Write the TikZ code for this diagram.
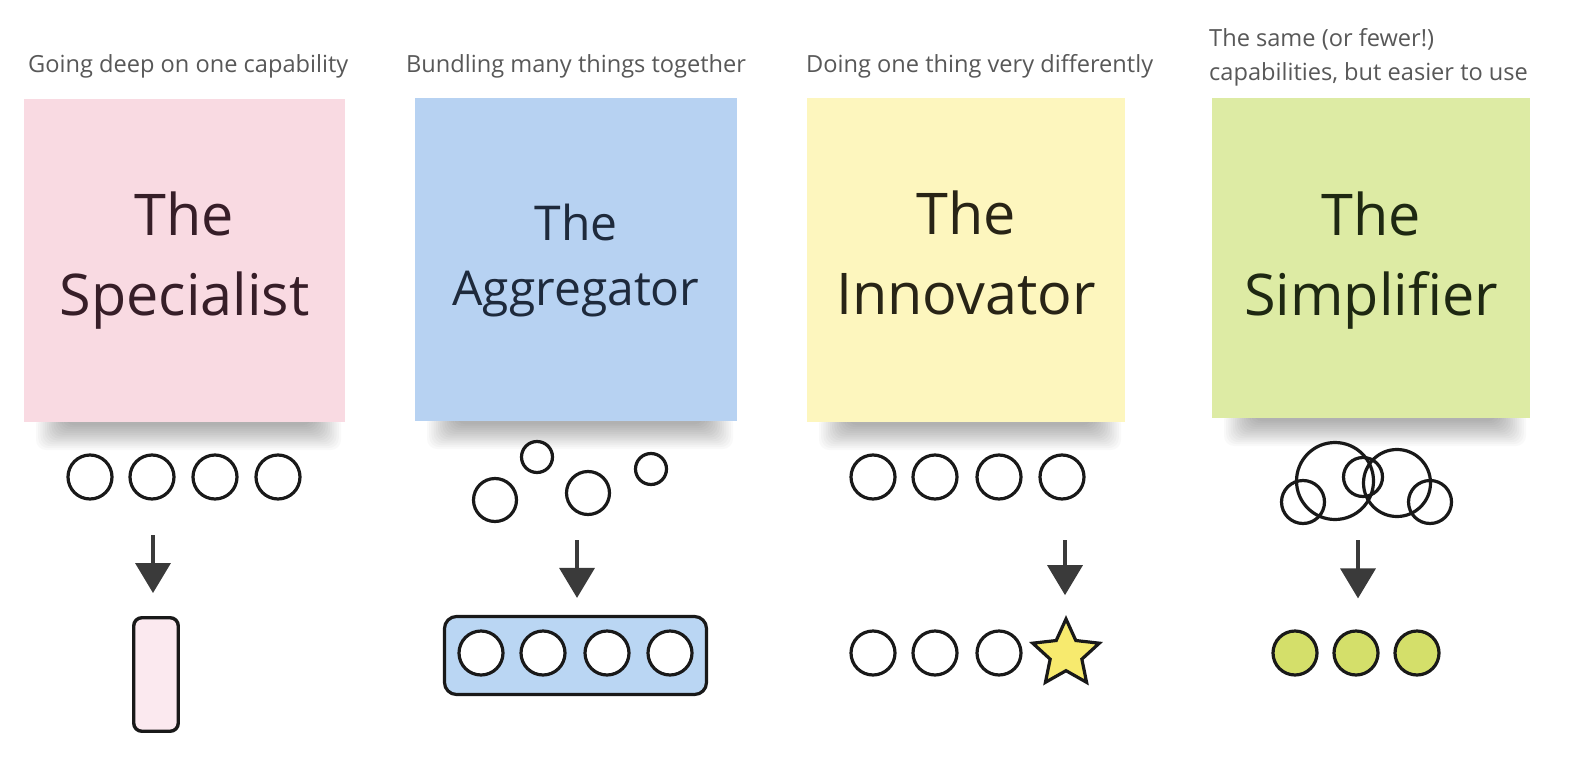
\documentclass[tikz,border=0pt]{standalone}
\usepackage{fontspec}
\setmainfont{Open Sans}
\usetikzlibrary{arrows.meta,shapes.geometric}
\definecolor{pinknote}{RGB}{249,218,226}
\definecolor{bluenote}{RGB}{183,210,242}
\definecolor{yellownote}{RGB}{253,246,190}
\definecolor{greennote}{RGB}{221,235,164}
\definecolor{pinkbox}{RGB}{251,233,239}
\definecolor{bluebox}{RGB}{186,214,243}
\definecolor{starfill}{RGB}{247,234,110}
\definecolor{greendot}{RGB}{212,223,106}
\definecolor{ink}{RGB}{25,25,25}
\definecolor{arrowink}{RGB}{58,58,58}
\definecolor{captionink}{RGB}{88,88,88}
\definecolor{tpink}{RGB}{55,30,40}
\definecolor{tblue}{RGB}{30,42,60}
\definecolor{tyellow}{RGB}{40,36,22}
\definecolor{tgreen}{RGB}{30,40,18}
\tikzset{
  note/.style={rectangle, inner sep=0pt, align=center},
  bigtitle/.style={font=\fontsize{57.5}{80}\selectfont, text height=122pt, text depth=13pt},
  smalltitle/.style={font=\fontsize{48}{65}\selectfont, text height=101pt, text depth=10pt},
  caption/.style={anchor=base west, inner sep=0pt, text=captionink, font=\fontsize{23.6}{34}\selectfont, align=left},
  ring/.style={circle, draw=ink, line width=3.2pt, fill=white, inner sep=0pt, minimum size=#1},
  ring/.default=44pt,
  arr/.style={draw=arrowink, line width=3.6pt, -{Triangle[width=35pt,length=30pt]}},
}
\begin{document}
\begin{tikzpicture}[x=1pt,y=-1pt]
\useasboundingbox (0,0) rectangle (1570,781);
\fill[white] (0,0) rectangle (1570,781);

% shadows under the notes
\foreach \L/\R/\B in {24/345/422, 415/737/421, 807/1125/422, 1212/1530/418} {
  \foreach \k in {0,...,13} {
    \fill[black,opacity=0.022,rounded corners=10pt] (\L+12+2.2*\k, \B-8) rectangle (\R-4-2.2*\k, \B+28-1.9*\k);
  }
}

% captions
\node[caption] (c1) at (28,73) {Going deep on one capability};
\node[caption] (c2) at (406,73) {Bundling many things together};
\node[caption] (c3) at (806,73) {Doing one thing very differently};
\node[caption] (c4) at (1209,81) {The same (or fewer!)\\capabilities, but easier to use};

% notes
\node[note, fill=pinknote, minimum width=321pt, minimum height=323pt, bigtitle, text=tpink] (n1) at (184.5,260.5) {The\\Specialist};
\node[note, fill=bluenote, minimum width=322pt, minimum height=323pt, smalltitle, text=tblue] (n2) at (576,259.5) {The\\Aggregator};
\node[note, fill=yellownote, minimum width=318pt, minimum height=324pt, bigtitle, text=tyellow] (n3) at (966,260) {The\\Innovator};
\node[note, fill=greennote, minimum width=318pt, minimum height=320pt, bigtitle, text=tgreen, text depth=8pt] (n4) at (1371,258) {The\\Simplifier};

% ---- Specialist
\node[ring] (s1) at (90,477) {};
\node[ring] (s2) at (152,477) {};
\node[ring] (s3) at (215,477) {};
\node[ring] (s4) at (278,477) {};
\node[rectangle, rounded corners=8pt, draw=ink, line width=3.4pt, fill=pinkbox, minimum width=44.5pt, minimum height=113.5pt, inner sep=0pt] (r1) at (156,674.5) {};
\coordinate (a1s) at (153,535);
\draw[arr, shorten >=23pt] (a1s) -- (a1s |- r1.north);

% ---- Aggregator
\node[ring=31pt] (g1) at (537,457) {};
\node[ring=43pt] (g2) at (495,500) {};
\node[ring=43pt] (g3) at (588,493) {};
\node[ring=31pt] (g4) at (651,469) {};
\node[rectangle, rounded corners=12pt, draw=ink, line width=3.2pt, fill=bluebox, minimum width=262pt, minimum height=78pt, inner sep=0pt] (r2) at (575.5,655.5) {};
\node[ring] (b1) at (481,653) {};
\node[ring] (b2) at (543,653) {};
\node[ring] (b3) at (607,653) {};
\node[ring] (b4) at (670,653) {};
\coordinate (a2s) at (577,540);
\draw[arr, shorten >=17pt] (a2s) -- (a2s |- r2.north);

% ---- Innovator
\node[ring] (i1) at (873,477) {};
\node[ring] (i2) at (935,477) {};
\node[ring] (i3) at (999,477) {};
\node[ring] (i4) at (1062,477) {};
\node[ring] (j1) at (873,653) {};
\node[ring] (j2) at (935,653) {};
\node[ring] (j3) at (999,653) {};
\node[star, star points=5, star point ratio=2.1, draw=ink, line width=3.2pt, fill=starfill, minimum size=70pt, inner sep=0pt] (st) at (1066,654) {};
\coordinate (a3s) at (1065,540);
\draw[arr, shorten >=20pt] (a3s) -- (a3s |- st.north);

% ---- Simplifier
\node[ring=77pt, fill=none] (m1) at (1335,481) {};
\node[ring=43pt, fill=none] (m2) at (1303,502) {};
\node[ring=39pt, fill=none] (m3) at (1363,477) {};
\node[ring=67pt, fill=none] (m4) at (1397,483) {};
\node[ring=43pt, fill=none] (m5) at (1430,502) {};
\node[ring, fill=greendot] (d1) at (1295,653) {};
\node[ring, fill=greendot] (d2) at (1356,653) {};
\node[ring, fill=greendot] (d3) at (1417,653) {};
\coordinate (a4s) at (1358,540);
\draw[arr, shorten >=31pt] (a4s) -- (a4s |- d2.north);
\end{tikzpicture}
\end{document}
